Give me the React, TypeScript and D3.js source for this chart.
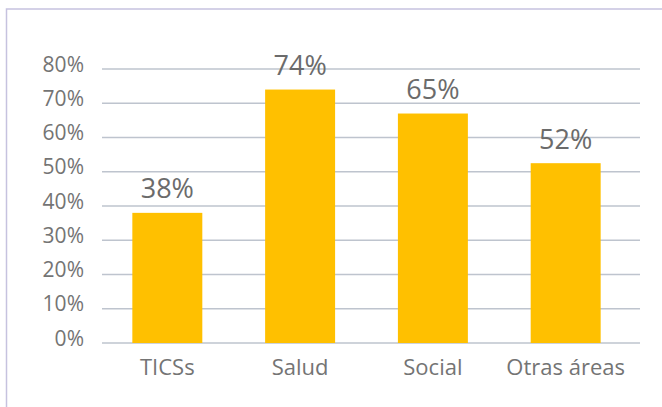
import React from "react";
import * as d3 from "d3";

const categories = ["TICSs", "Salud", "Social", "Otras áreas"];
const barValues = [38, 74, 67, 52.5];
const valueLabels = ["38%", "74%", "65%", "52%"];
const yTicks = [0, 10, 20, 30, 40, 50, 60, 70, 80];

const W = 662;
const H = 407;

export default function App() {
  const y = d3.scaleLinear().domain([0, 80]).range([343, 69]);
  const x = d3
    .scaleBand<string>()
    .domain(categories)
    .range([101, 632])
    .paddingInner(0.473)
    .paddingOuter(0.236);
  const font = "'Open Sans', sans-serif";
  const textColor = "#747474";
  return (
    <div style={{ position: "fixed", left: 0, top: 0 }}>
      <svg width={W} height={H} style={{ display: "block", background: "#fff" }}>
        <rect x={6.5} y={9} width={W + 10} height={H + 10} fill="#fff" stroke="#C6C2DF" strokeWidth={1.5} />
        {yTicks.map((t) => (
          <g key={t}>
            <line x1={102} x2={640} y1={y(t)} y2={y(t)} stroke="#BEC4CE" strokeWidth={1.5} />
            <text
              x={84}
              y={y(t) - 3}
              textAnchor="end"
              dominantBaseline="middle"
              fontFamily={font}
              fontSize={21}
              fill={textColor}
            >
              {t}%
            </text>
          </g>
        ))}
        {categories.map((c, i) => (
          <g key={c}>
            <rect
              x={x(c)}
              y={y(barValues[i])}
              width={x.bandwidth()}
              height={y(0) - y(barValues[i])}
              fill="#FFC000"
            />
            <text
              x={(x(c) as number) + x.bandwidth() / 2}
              y={y(barValues[i]) - 14.5}
              textAnchor="middle"
              fontFamily={font}
              fontSize={27}
              fill="#6B6B6B"
            >
              {valueLabels[i]}
            </text>
            <text
              x={(x(c) as number) + x.bandwidth() / 2}
              y={375}
              textAnchor="middle"
              fontFamily={font}
              fontSize={22}
              fill={textColor}
            >
              {c}
            </text>
          </g>
        ))}
      </svg>
    </div>
  );
}
